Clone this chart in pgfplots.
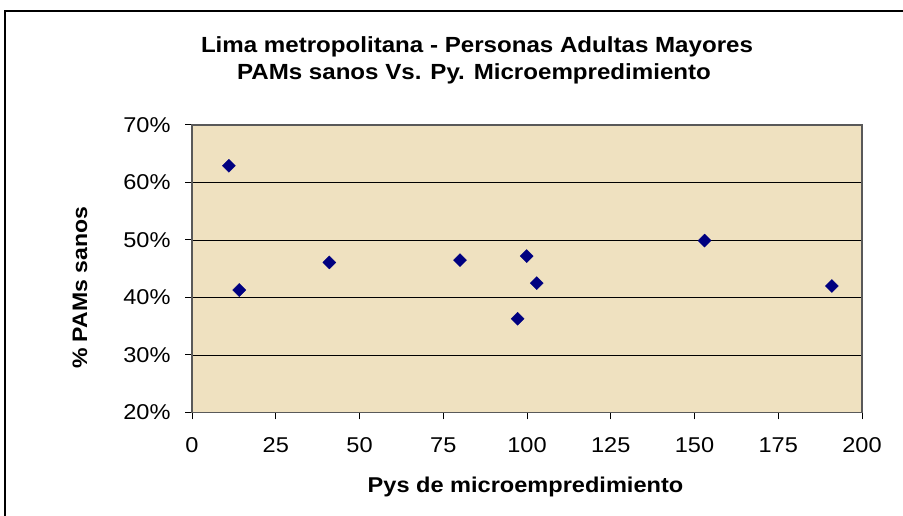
\documentclass[border=0pt]{standalone}
\usepackage{fontspec}
\setmainfont{Liberation Sans}[FakeStretch=1.1]
\usepackage{pgfplots}
\pgfplotsset{compat=1.18}
\definecolor{tanbg}{RGB}{239,225,192}
\definecolor{navy}{RGB}{0,0,128}
\begin{document}
\begin{tikzpicture}[x=1bp,y=1bp]
\path[use as bounding box] (0,0) rectangle (903,516);
\fill[white] (0,0) rectangle (903,516);
\draw[line width=2bp] (5,0) -- (5,505) -- (904,505);
\begin{axis}[
  at={(192bp,103.5bp)}, anchor=south west, scale only axis,
  width=670bp, height=287.5bp,
  xmin=0, xmax=200, ymin=20, ymax=70,
  xtick={0,25,...,200}, ytick={20,30,...,70},
  yticklabel={\pgfmathprintnumber{\tick}\%},
  /pgf/number format/assume math mode=true,
  ymajorgrids, major grid style={black, line width=0.9bp},
  tick align=outside, major tick length=7bp,
  tick style={black, line width=1bp},
  tick pos=left,
  axis line style={draw=gray!70!black, line width=1.5bp},
  axis background/.style={fill=tanbg},
  ticklabel style={font=\fontsize{21.5}{24}\selectfont},
  xticklabel style={yshift=-15bp},
  yticklabel style={xshift=-11bp},
]
\addplot[only marks, mark=square*, mark size=4.6bp,
  mark options={rotate=45, fill=navy, draw=navy}]
  coordinates {
  (11,62.9) (14.1,41.3) (41,46.1) (80,46.5) (99.9,47.2)
  (102.9,42.5) (97.2,36.3) (153,49.9) (191,42.0)
  };
\end{axis}
\node[anchor=base, font=\fontsize{22}{26}\selectfont\bfseries] at (477,463) {Lima metropolitana - Personas Adultas Mayores};
\node[anchor=base, font=\fontsize{22}{26}\selectfont\bfseries] at (474,436) {PAMs sanos Vs. Py. Microempredimiento};
\node[anchor=base, font=\fontsize{21.5}{26}\selectfont\bfseries] at (525.5,23) {Pys de microempredimiento};
\node[anchor=base, rotate=90, font=\fontsize{21}{26}\selectfont\bfseries] at (87,228) {\% PAMs sanos};
\end{tikzpicture}
\end{document}
